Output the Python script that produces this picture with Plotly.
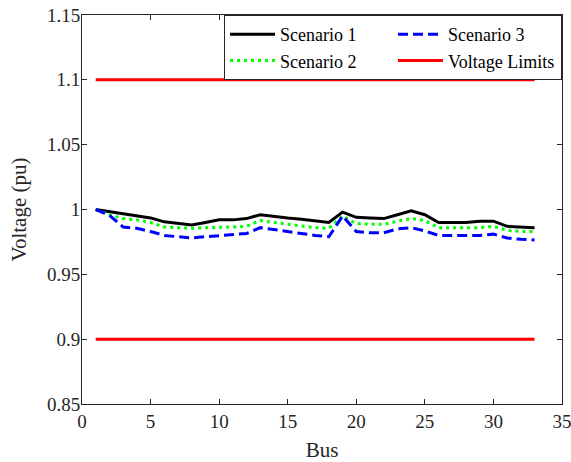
import plotly.graph_objects as go

bus = list(range(1, 34))

scenario1 = [1.000, 0.9985, 0.997, 0.995, 0.9935, 0.9905, 0.989, 0.988, 0.990, 0.992,
             0.992, 0.993, 0.996, 0.9945, 0.9935, 0.9925, 0.991, 0.990, 0.998, 0.994,
             0.9935, 0.993, 0.996, 0.999, 0.996, 0.990, 0.990, 0.990, 0.991, 0.991,
             0.987, 0.9865, 0.986]

scenario2 = [1.000, 0.996, 0.993, 0.992, 0.990, 0.9865, 0.986, 0.9855, 0.986, 0.986,
             0.9865, 0.987, 0.9915, 0.990, 0.9885, 0.987, 0.986, 0.9855, 0.995, 0.989,
             0.9885, 0.9885, 0.991, 0.993, 0.9915, 0.986, 0.986, 0.986, 0.986, 0.987,
             0.984, 0.983, 0.983]

scenario3 = [1.000, 0.9955, 0.9865, 0.9855, 0.983, 0.980, 0.979, 0.978, 0.979, 0.980,
             0.9805, 0.9815, 0.986, 0.9845, 0.983, 0.981, 0.980, 0.979, 0.995, 0.983,
             0.982, 0.982, 0.985, 0.986, 0.9835, 0.980, 0.980, 0.980, 0.980, 0.981,
             0.978, 0.977, 0.9765]

v_upper = [1.1] * 33
v_lower = [0.9] * 33

x_ticks = [0, 5, 10, 15, 20, 25, 30, 35]
y_ticks = [0.85, 0.9, 0.95, 1.0, 1.05, 1.1, 1.15]
y_tick_labels = ["0.85", "0.9", "0.95", "1", "1.05", "1.1", "1.15"]

FONT = "Liberation Serif"
AX = "#262626"

fig = go.Figure()
fig.add_trace(go.Scatter(x=bus, y=scenario1, mode="lines", name="Scenario 1",
                         line=dict(color="black", width=3), legendrank=1))
fig.add_trace(go.Scatter(x=bus, y=scenario2, mode="lines", name="Scenario 2",
                         line=dict(color="#00ff00", width=3, dash="3px,4px"), legendrank=3))
fig.add_trace(go.Scatter(x=bus, y=scenario3, mode="lines", name="Scenario 3",
                         line=dict(color="#0000ff", width=3, dash="10px,5px"), legendrank=2))
fig.add_trace(go.Scatter(x=bus, y=v_upper, mode="lines", name="Voltage Limits",
                         line=dict(color="#ff0000", width=3), legendrank=4))
fig.add_trace(go.Scatter(x=bus, y=v_lower, mode="lines", name="Voltage Limits",
                         line=dict(color="#ff0000", width=3), showlegend=False))

axis_common = dict(showline=True, linecolor=AX, linewidth=1, mirror="ticks",
                   ticks="inside", ticklen=5, tickcolor=AX, showgrid=False,
                   zeroline=False, automargin=False, ticklabeloverflow="allow",
                   tickfont=dict(family=FONT, size=19, color=AX))

fig.update_xaxes(range=[0, 35], tickvals=x_ticks, **axis_common,
                 title=dict(text="Bus", font=dict(family=FONT, size=21, color=AX), standoff=11))
fig.update_yaxes(range=[0.85, 1.15], tickvals=y_ticks, ticktext=y_tick_labels, **axis_common,
                 ticklabelstandoff=-3,
                 title=dict(text="Voltage (pu)", font=dict(family=FONT, size=21, color=AX), standoff=14))

fig.update_layout(
    width=571, height=462,
    margin=dict(l=82, r=9, t=15, b=58),
    plot_bgcolor="white", paper_bgcolor="white",
    font=dict(family=FONT, color=AX),
    legend=dict(orientation="h", x=1, xanchor="right", y=1, yanchor="top",
                bgcolor="white", bordercolor=AX, borderwidth=1,
                font=dict(family=FONT, size=18, color="black"),
                itemwidth=45, entrywidth=108, tracegroupgap=0, traceorder="normal"),
)

fig.write_html("out.html", config={"displayModeBar": False},
               post_script="document.body.style.margin='0';document.body.style.padding='0';")
